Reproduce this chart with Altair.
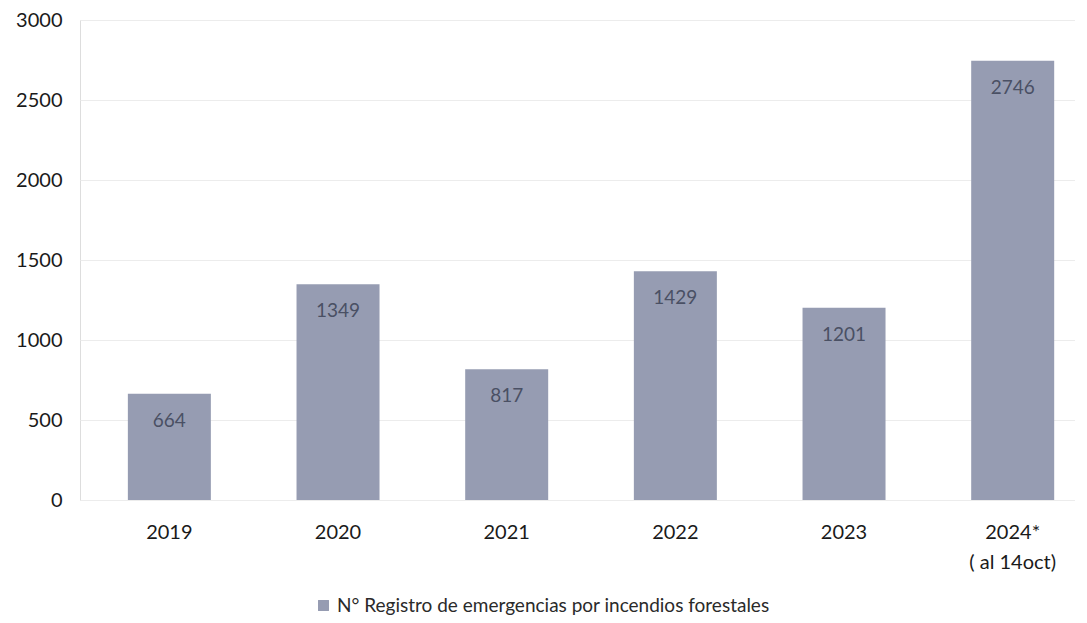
import altair as alt
import pandas as pd

years = ["2019", "2020", "2021", "2022", "2023", "2024*"]
values = [664, 1349, 817, 1429, 1201, 2746]
series_name = "N° Registro de emergencias por incendios forestales"

df = pd.DataFrame({"year": years, "value": values, "serie": [series_name] * len(years)})

FONT = "Lato"
BAR = "#969cb2"

x = alt.X(
    "year:N",
    sort=years,
    title=None,
    scale=alt.Scale(paddingInner=0.51, paddingOuter=0.2046, align=0.696),
    axis=alt.Axis(
        labelAngle=0,
        labelFontSize=20,
        labelFont=FONT,
        labelColor="#1a1a1a",
        labelPadding=22,
        labelLineHeight=30,
        ticks=False,
        domain=False,
        grid=False,
        labelExpr="datum.label == '2024*' ? ['2024*', '( al 14oct)'] : datum.label",
    ),
)

y = alt.Y(
    "value:Q",
    title=None,
    scale=alt.Scale(domain=[0, 3000], nice=False),
    axis=alt.Axis(
        values=[0, 500, 1000, 1500, 2000, 2500, 3000],
        format="d",
        labelFontSize=20,
        labelFont=FONT,
        labelColor="#1a1a1a",
        labelPadding=18,
        ticks=False,
        domain=False,
        gridColor="#ececec",
        gridWidth=1,
    ),
)

bars = alt.Chart(df).mark_bar(size=83).encode(
    x=x,
    y=y,
    color=alt.Color(
        "serie:N",
        scale=alt.Scale(range=[BAR]),
        legend=alt.Legend(
            title=None,
            orient="none",
            legendX=234,
            legendY=576,
            symbolType="square",
            symbolSize=120,
            symbolStrokeWidth=0,
            labelFontSize=19,
            labelFont=FONT,
            labelColor="#2a2a2a",
            labelLimit=800,
            symbolOffset=0,
        ),
    ),
)

text = alt.Chart(df).mark_text(
    baseline="middle", dy=27, fontSize=19, font=FONT, color="#4a5064"
).encode(x=alt.X("year:N", sort=years), y="value:Q", text="value:Q")

chart = (
    alt.layer(bars, text)
    .properties(
        width=995,
        height=480,
        autosize=alt.AutoSizeParams(type="none"),
        padding={"left": 72, "top": 12, "right": 0, "bottom": 115},
    )
    .configure_view(stroke=None)
    .configure(background="white")
)

chart.save("out.html", embed_options={"renderer": "svg", "actions": False})
